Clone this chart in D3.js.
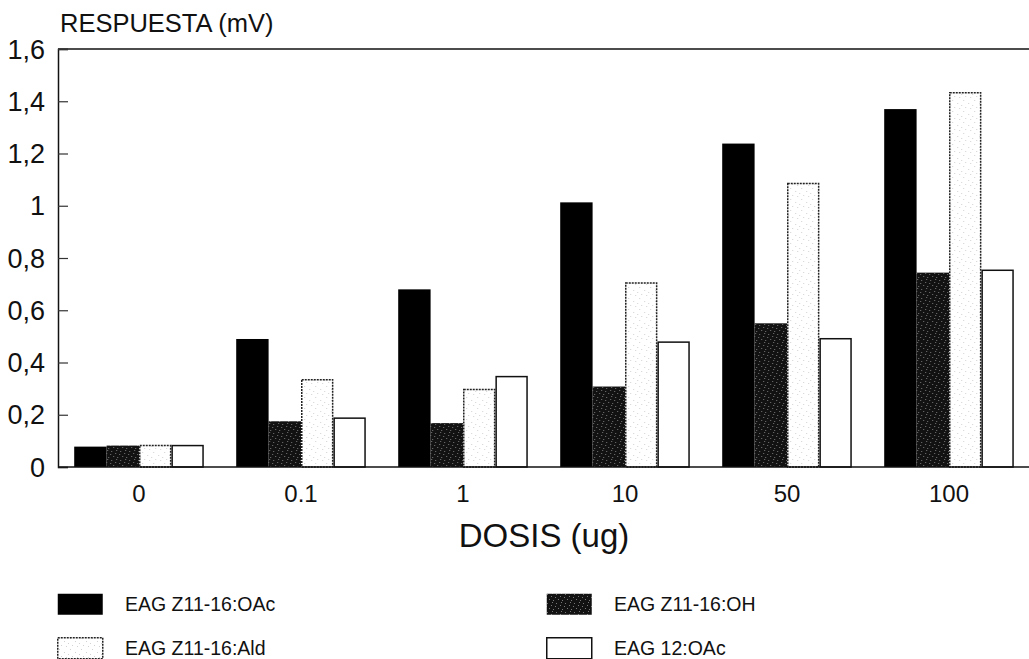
<!DOCTYPE html>
<html>
<head>
<meta charset="utf-8">
<script src="https://cdn.jsdelivr.net/npm/d3@7"></script>
<style>
html,body{margin:0;padding:0;background:#fff;}
svg{display:block;font-family:"Liberation Sans",Arial,Helvetica,sans-serif;}
</style>
</head>
<body>
<svg id="chart" width="1029" height="659"></svg>
<script>
const doses = ["0", "0.1", "1", "10", "50", "100"];
const seriesNames = ["EAG Z11-16:OAc", "EAG Z11-16:OH", "EAG Z11-16:Ald", "EAG 12:OAc"];
const oac = [0.078, 0.49, 0.68, 1.013, 1.238, 1.37];
const oh = [0.082, 0.175, 0.168, 0.308, 0.55, 0.744];
const ald = [0.082, 0.334, 0.297, 0.704, 1.085, 1.433];
const ac12 = [0.082, 0.187, 0.346, 0.478, 0.491, 0.753];
const yTicks = [0, 0.2, 0.4, 0.6, 0.8, 1, 1.2, 1.4, 1.6];
const yTickLabels = ["0", "0,2", "0,4", "0,6", "0,8", "1", "1,2", "1,4", "1,6"];
const yTitle = "RESPUESTA (mV)";
const xTitle = "DOSIS (ug)";

(function(){
const seriesValues = [oac, oh, ald, ac12];
const svg = d3.select("#chart");

// patterns
const defs = svg.append("defs");
const pDark = defs.append("pattern").attr("id","pDark").attr("patternUnits","userSpaceOnUse")
  .attr("width",9).attr("height",9);
pDark.append("rect").attr("width",9).attr("height",9).attr("fill","#121212");
[[1,1],[5,3],[3,6],[7,7],[0,4],[6,0]].forEach(([x,y])=>{
  pDark.append("rect").attr("x",x).attr("y",y).attr("width",1).attr("height",1).attr("fill","#777");
});
const pLight = defs.append("pattern").attr("id","pLight").attr("patternUnits","userSpaceOnUse")
  .attr("width",11).attr("height",11);
pLight.append("rect").attr("width",11).attr("height",11).attr("fill","#fff");
[[2,1],[7,4],[4,8],[9,9],[0,6]].forEach(([x,y])=>{
  pLight.append("rect").attr("x",x).attr("y",y).attr("width",1).attr("height",1).attr("fill","#d2d2d2");
});

const mLeft = 58, mRight = 1030, mTop = 49, mBottom = 467;
const x0 = d3.scaleBand().domain(doses).range([mLeft, mRight]).paddingInner(0.2).paddingOuter(0.1);
const x1 = d3.scaleBand().domain(d3.range(4)).range([0, x0.bandwidth()]).padding(0);
const y = d3.scaleLinear().domain([0, 1.6]).range([mBottom, mTop]);

const styles = [
  {fill:"#000", stroke:"none", dash:null},
  {fill:"url(#pDark)", stroke:"none", dash:null},
  {fill:"url(#pLight)", stroke:"#222", dash:"2,1"},
  {fill:"#fff", stroke:"#111", dash:null}
];

// bars
const groups = svg.append("g").selectAll("g").data(doses).join("g")
  .attr("transform", d => `translate(${x0(d)},0)`);
groups.selectAll("rect").data((d,i) => seriesValues.map((s,k)=>({k, v:s[i]}))).join("rect")
  .attr("x", d => x1(d.k) + (styles[d.k].stroke==="none"?0:0.75))
  .attr("width", d => x1.bandwidth() - (styles[d.k].stroke==="none"?0:1.5))
  .attr("y", d => y(d.v))
  .attr("height", d => y(0) - y(d.v))
  .attr("fill", d => styles[d.k].fill)
  .attr("stroke", d => styles[d.k].stroke)
  .attr("stroke-width", 1.5)
  .attr("stroke-dasharray", d => styles[d.k].dash);

// frame line
svg.append("line").attr("x1",mLeft).attr("x2",1029).attr("y1",mTop).attr("y2",mTop)
  .attr("stroke","#111").attr("stroke-width",1.5);

// y axis
const yAxis = d3.axisRight(y).tickValues(yTicks).tickSize(10).tickFormat("");
const gy = svg.append("g").attr("transform",`translate(${mLeft},0)`).call(yAxis);
gy.select(".domain").attr("stroke","#111").attr("stroke-width",1.5);
gy.selectAll(".tick line").attr("stroke","#333").attr("stroke-width",1.2);
svg.append("g").selectAll("text").data(yTicks).join("text")
  .attr("x", 45).attr("y", d => y(d)).attr("dy","0.36em")
  .attr("text-anchor","end").attr("font-size",27).attr("fill","#111")
  .text((d,i)=>yTickLabels[i]);

// x axis
const xAxis = d3.axisBottom(x0).tickSize(0).tickPadding(0);
const gx = svg.append("g").attr("transform",`translate(0,${mBottom})`).call(xAxis);
gx.select(".domain").attr("d", `M${mLeft},0H1029`).attr("stroke","#111").attr("stroke-width",1.5);
gx.selectAll(".tick text").attr("font-size",24).attr("fill","#111")
  .attr("font-family","'Liberation Sans',Arial,sans-serif").attr("y",35).attr("dy",0);

// titles
svg.append("text").attr("x",60).attr("y",32).attr("font-size",25.5).attr("fill","#111").text(yTitle);
svg.append("text").attr("x",544).attr("y",547).attr("text-anchor","middle")
  .attr("font-size",33).attr("fill","#111").text(xTitle);

// legend
const legPos = [[57,593],[546,593],[57,637],[546,637]];
const legOrder = [0,1,2,3];
const leg = svg.append("g").selectAll("g").data(legOrder).join("g")
  .attr("transform", k => `translate(${legPos[k][0]},${legPos[k][1]})`);
leg.append("rect").attr("x",0.75).attr("y",0.75).attr("width",45).attr("height",21)
  .attr("fill", k => styles[k].fill)
  .attr("stroke", k => styles[k].stroke)
  .attr("stroke-width",1.5)
  .attr("stroke-dasharray", k => styles[k].dash);
leg.append("text").attr("x",68).attr("y",18).attr("font-size",19.5).attr("fill","#111")
  .text(k => seriesNames[k]);
})();
</script>
</body>
</html>
